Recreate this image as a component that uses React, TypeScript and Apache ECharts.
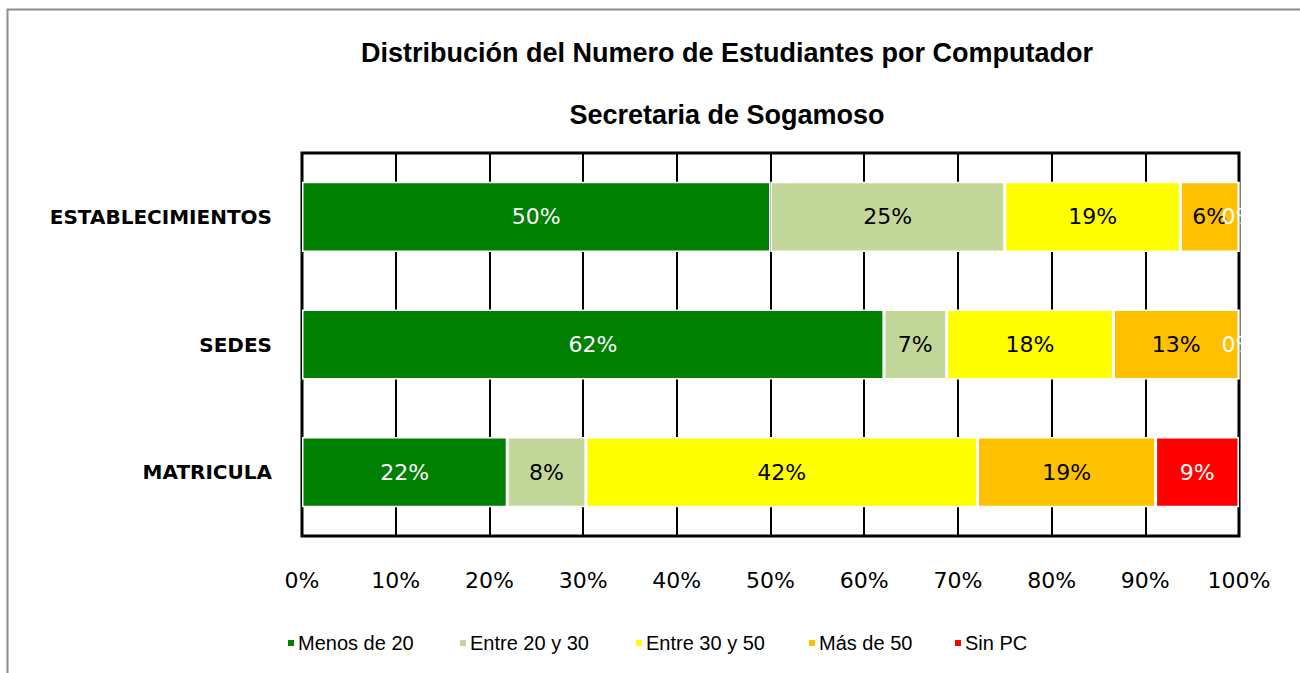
import React, { useEffect, useRef } from "react";
import * as echarts from "echarts";

const categories = ["ESTABLECIMIENTOS", "SEDES", "MATRICULA"];
const seriesNames = ["Menos de 20", "Entre 20 y 30", "Entre 30 y 50", "Más de 50", "Sin PC"];
const menos20 = [50, 62.1, 21.9];
const entre20y30 = [25, 6.7, 8.4];
const entre30y50 = [18.75, 17.8, 41.8];
const mas50 = [6.25, 13.4, 19.0];
const sinPC = [0, 0, 8.9];
const xTicks = [0, 10, 20, 30, 40, 50, 60, 70, 80, 90, 100];

const colors = ["#008000", "#C4D79B", "#FFFF00", "#FFC000", "#FF0000"];
const labelColors = ["#ffffff", "#000000", "#000000", "#000000", "#ffffff"];
const legendLefts = [286, 458, 634, 807, 953];

export default function App() {
  const ref = useRef<HTMLDivElement>(null);
  useEffect(() => {
    if (!ref.current) return;
    const chart = echarts.init(ref.current, null, { renderer: "svg" });
    const values = [menos20, entre20y30, entre30y50, mas50, sinPC];
    chart.setOption({
      animation: false,
      backgroundColor: "#ffffff",
      title: [
        {
          text: "Distribución del Numero de Estudiantes por Computador",
          left: 722,
          top: 34,
          textAlign: "center",
          textStyle: { fontFamily: "Liberation Sans", fontWeight: "bold", fontSize: 27, color: "#000" },
        },
        {
          text: "Secretaria de Sogamoso",
          left: 722,
          top: 96,
          textAlign: "center",
          textStyle: { fontFamily: "Liberation Sans", fontWeight: "bold", fontSize: 27, color: "#000" },
        },
      ],
      graphic: [
        {
          type: "rect",
          shape: { x: 7.5, y: 9.5, width: 1400, height: 800 },
          style: { fill: "none", stroke: "#8c8c8c", lineWidth: 2 },
          silent: true,
        },
      ],
      legend: seriesNames.map((name, i) => ({
        left: legendLefts[i],
        top: 633,
        padding: 0,
        itemWidth: 8,
        itemHeight: 8,
        itemGap: 0,
        icon: "rect",
        data: [name],
        selectedMode: false,
        textStyle: { fontFamily: "Liberation Sans", fontSize: 20, color: "#000", padding: [0, 0, 0, -2] },
      })),
      grid: {
        left: 302,
        right: 61,
        top: 153,
        bottom: 137,
        show: true,
        borderColor: "#000",
        borderWidth: 3,
        backgroundColor: "transparent",
      },
      xAxis: {
        type: "value",
        min: xTicks[0],
        max: xTicks[xTicks.length - 1],
        interval: 10,
        axisLine: { show: false },
        axisTick: { show: false },
        splitLine: { show: true, lineStyle: { color: "#000", width: 2 } },
        axisLabel: {
          formatter: "{value}%",
          margin: 33,
          fontFamily: "DejaVu Sans",
          fontSize: 22,
          color: "#000",
        },
      },
      yAxis: {
        type: "category",
        data: categories,
        inverse: true,
        axisLine: { show: false },
        axisTick: { show: false },
        axisLabel: {
          margin: 30,
          fontFamily: "DejaVu Sans",
          fontWeight: "bold",
          fontSize: 20,
          color: "#000",
        },
      },
      series: seriesNames.map((name, i) => ({
        name,
        type: "bar",
        stack: "total",
        barWidth: "55%",
        data: values[i],
        itemStyle: { color: colors[i], borderColor: "#ffffff", borderWidth: 1.5 },
        label: {
          show: true,
          position: "inside",
          formatter: (p: any) => Math.round(p.value) + "%",
          fontFamily: "DejaVu Sans",
          fontSize: 22,
          color: labelColors[i],
        },
      })),
    });
    return () => chart.dispose();
  }, []);
  return (
    <div
      ref={ref}
      style={{ position: "absolute", left: 0, top: 0, width: 1300, height: 673 }}
    />
  );
}
